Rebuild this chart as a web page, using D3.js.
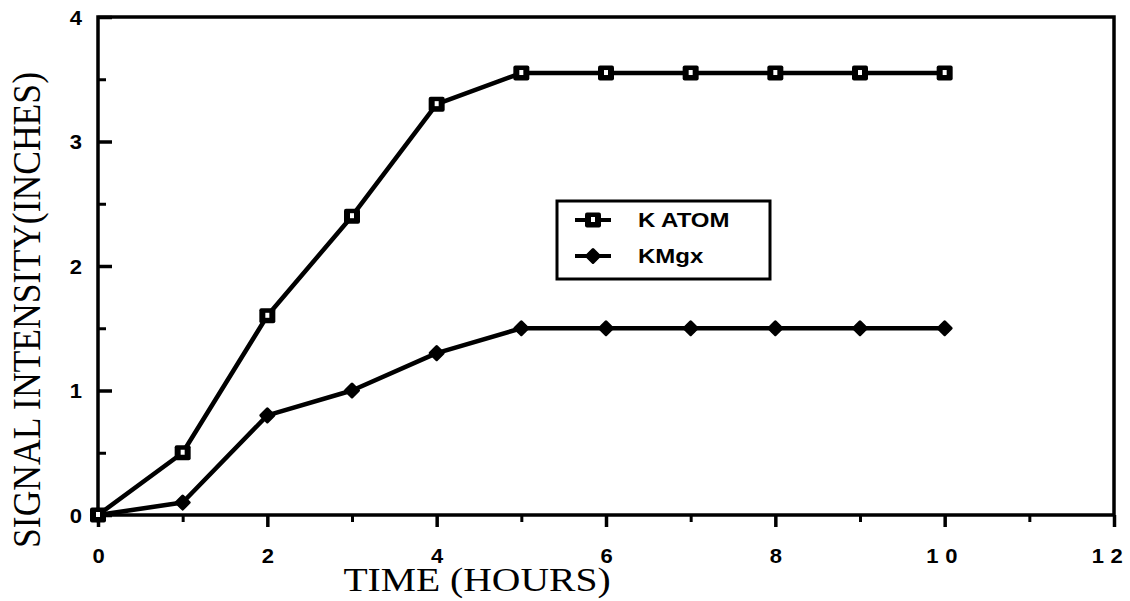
<!DOCTYPE html>
<html>
<head>
<meta charset="utf-8">
<script src="https://cdn.jsdelivr.net/npm/d3@7/dist/d3.min.js"></script>
<style>
  html, body { margin: 0; padding: 0; background: #fff; }
  svg { display: block; }
</style>
</head>
<body>
<svg id="chart" width="1130" height="601"></svg>
<script>
// Signal intensity vs. time for the two potassium species
const hours = [0, 1, 2, 3, 4, 5, 6, 7, 8, 9, 10];
const katom = [0, 0.5, 1.6, 2.4, 3.3, 3.55, 3.55, 3.55, 3.55, 3.55, 3.55];
const kmgx  = [0, 0.1, 0.8, 1.0, 1.3, 1.5, 1.5, 1.5, 1.5, 1.5, 1.5];
const seriesNames = ["K ATOM", "KMgx"];
const xTicks = [0, 2, 4, 6, 8, 10, 12];
const xMinorTicks = [1, 3, 5, 7, 9, 11];
const yTicks = [0, 1, 2, 3, 4];
const yMinorTicks = [0.5, 1.5, 2.5, 3.5];
const xTitle = "TIME (HOURS)";
const yTitle = "SIGNAL INTENSITY(INCHES)";

const svg = d3.select("#chart");
const plotL = 98, plotR = 1114, plotT = 17, plotB = 515;

const x = d3.scaleLinear().domain([0, 12]).range([plotL, plotR]);
const y = d3.scaleLinear().domain([0, 4]).range([plotB, plotT]);

const ink = "#000";
const tickFont = "'Liberation Sans', Arial, sans-serif";
const titleFont = "'Liberation Serif', 'Times New Roman', serif";
const stretch = 1.2; // lettering is drawn a little wide

// frame
svg.append("rect")
  .attr("x", plotL).attr("y", plotT)
  .attr("width", plotR - plotL).attr("height", plotB - plotT)
  .attr("fill", "none").attr("stroke", ink).attr("stroke-width", 3.5);

function styleAxis(g, w) {
  g.select(".domain").remove();
  g.selectAll(".tick line").attr("stroke", ink).attr("stroke-width", w);
}

// x axis: minor ticks on odd hours, labelled majors every 2 h (ticks point down)
svg.append("g").attr("transform", `translate(0,${plotB})`)
  .call(d3.axisBottom(x).tickValues(xMinorTicks).tickSize(7).tickFormat(""))
  .call(g => styleAxis(g, 3));
svg.append("g").attr("transform", `translate(0,${plotB})`)
  .call(d3.axisBottom(x).tickValues(xTicks).tickSize(12).tickFormat(d3.format("d")))
  .call(g => styleAxis(g, 3.5))
  .call(g => g.selectAll(".tick text")
    .attr("y", null).attr("dy", null)
    .attr("transform", d => `translate(${d >= 12 ? -4 : 0},48) scale(1.1,1)`)
    .attr("font-family", tickFont).attr("font-weight", "bold")
    .attr("font-size", 20).attr("fill", ink)
    .attr("letter-spacing", d => d >= 10 ? 6 : 0));

// y axis: ticks point into the plot
svg.append("g").attr("transform", `translate(${plotL},0)`)
  .call(d3.axisRight(y).tickValues(yMinorTicks).tickSize(8).tickFormat(""))
  .call(g => styleAxis(g, 3));
svg.append("g").attr("transform", `translate(${plotL},0)`)
  .call(d3.axisRight(y).tickValues(yTicks).tickSize(14).tickFormat(d3.format("d")))
  .call(g => styleAxis(g, 3.5))
  .call(g => g.selectAll(".tick text")
    .attr("x", null).attr("dy", null)
    .attr("transform", `translate(-16,7) scale(1.1,1)`)
    .attr("text-anchor", "end")
    .attr("font-family", tickFont).attr("font-weight", "bold")
    .attr("font-size", 20).attr("fill", ink));

// axis titles
svg.append("text")
  .attr("transform", `translate(477,591) scale(${stretch},1)`)
  .attr("text-anchor", "middle")
  .attr("font-family", titleFont)
  .attr("font-size", 33)
  .text(xTitle);

svg.append("text")
  .attr("transform", `translate(40,310) scale(${stretch},1) rotate(-90)`)
  .attr("text-anchor", "middle")
  .attr("font-family", titleFont)
  .attr("font-size", 34)
  .attr("textLength", 476)
  .attr("lengthAdjust", "spacingAndGlyphs")
  .text(yTitle);

// series lines
const line = d3.line().x((d, i) => x(hours[i])).y(d => y(d));
svg.selectAll("path.series").data([katom, kmgx]).join("path")
  .attr("class", "series")
  .attr("d", line)
  .attr("fill", "none").attr("stroke", ink)
  .attr("stroke-width", 4.5).attr("stroke-linejoin", "round");

// markers
function squareMarker(g, cx, cy) {
  g.append("rect")
    .attr("x", cx - 8).attr("y", cy - 7.5).attr("width", 16).attr("height", 15)
    .attr("rx", 2).attr("fill", ink);
  g.append("rect")
    .attr("x", cx - 2).attr("y", cy - 3).attr("width", 4).attr("height", 5)
    .attr("fill", "#fff");
}
function diamondMarker(g, cx, cy) {
  g.append("path")
    .attr("d", `M${cx},${cy - 6.5}L${cx + 6.5},${cy}L${cx},${cy + 6.5}L${cx - 6.5},${cy}Z`)
    .attr("fill", ink).attr("stroke", ink).attr("stroke-width", 3)
    .attr("stroke-linejoin", "round");
  g.append("circle").attr("cx", cx).attr("cy", cy).attr("r", 5.5).attr("fill", ink);
}

const markers = svg.append("g");
kmgx.forEach((v, i) => diamondMarker(markers, x(hours[i]), y(v)));
katom.forEach((v, i) => squareMarker(markers, x(hours[i]), y(v)));

// legend
const lg = svg.append("g");
lg.append("rect")
  .attr("x", 557).attr("y", 201).attr("width", 213).attr("height", 78)
  .attr("fill", "#fff").attr("stroke", ink).attr("stroke-width", 3);
const legendRows = [
  { name: seriesNames[0], draw: squareMarker, cy: 220 },
  { name: seriesNames[1], draw: diamondMarker, cy: 256 }
];
legendRows.forEach(r => {
  lg.append("line")
    .attr("x1", 575).attr("x2", 611).attr("y1", r.cy).attr("y2", r.cy)
    .attr("stroke", ink).attr("stroke-width", 4);
  r.draw(lg, 593, r.cy);
  lg.append("text")
    .attr("transform", `translate(638,${r.cy + 7}) scale(${stretch},1)`)
    .attr("font-family", tickFont)
    .attr("font-weight", "bold")
    .attr("font-size", 20)
    .text(r.name);
});
</script>
</body>
</html>
